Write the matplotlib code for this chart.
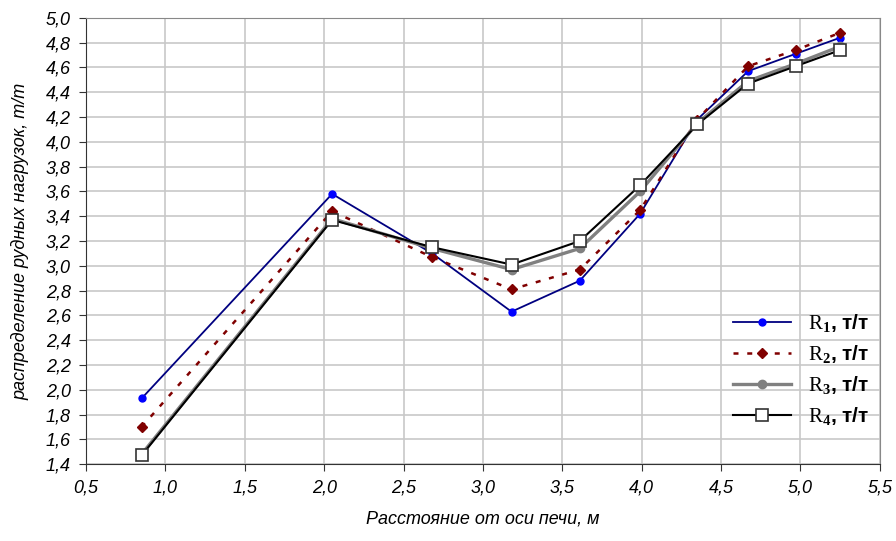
import matplotlib.pyplot as plt
from matplotlib.ticker import FuncFormatter, MultipleLocator

x = [0.85, 2.05, 2.68, 3.18, 3.61, 3.99, 4.35, 4.67, 4.97, 5.25]
r1 = [1.93, 3.58, 3.10, 2.63, 2.88, 3.42, 4.18, 4.57, 4.71, 4.84]
r2 = [1.70, 3.44, 3.07, 2.81, 2.97, 3.45, 4.18, 4.61, 4.74, 4.88]
r3 = [1.48, 3.38, 3.14, 2.97, 3.14, 3.60, 4.15, 4.49, 4.63, 4.77]
r4 = [1.47, 3.37, 3.15, 3.01, 3.20, 3.65, 4.14, 4.47, 4.61, 4.74]
labels = [r'$\mathrm{R}_\mathbf{1}$, т/т', r'$\mathrm{R}_\mathbf{2}$, т/т',
          r'$\mathrm{R}_\mathbf{3}$, т/т', r'$\mathrm{R}_\mathbf{4}$, т/т']

plt.rcParams['font.family'] = ['Liberation Sans', 'DejaVu Sans']
plt.rcParams['mathtext.fontset'] = 'custom'
plt.rcParams['mathtext.rm'] = 'Liberation Serif'
plt.rcParams['mathtext.bf'] = 'Liberation Serif:bold'

fig = plt.figure(figsize=(8.96, 5.41), dpi=100)
ax = fig.add_axes([0.096, 0.142, 0.886, 0.825])

ax.plot(x, r1, color='#000080', lw=1.3, marker='o', ms=5, mfc='#0000ff', mec='#0000ff', label=labels[0], zorder=3)
ax.plot(x, r2, color='#800000', lw=1.8, ls=(0, (2, 3.5)), marker='D', ms=5, mfc='#800000', mec='#800000', label=labels[1], zorder=3)
ax.plot(x, r3, color='#808080', lw=2.4, marker='o', ms=6, mfc='#808080', mec='#808080', label=labels[2], zorder=3)
ax.plot(x, r4, color='black', lw=1.5, marker='s', ms=8, mfc='white', mec='#333333', mew=1.2, label=labels[3], zorder=4)

ax.set_xlim(0.5, 5.5)
ax.set_ylim(1.4, 5.0)
ax.xaxis.set_major_locator(MultipleLocator(0.5))
ax.yaxis.set_major_locator(MultipleLocator(0.2))
fmt = FuncFormatter(lambda v, p: f'{v:.1f}'.replace('.', ','))
ax.xaxis.set_major_formatter(fmt)
ax.yaxis.set_major_formatter(fmt)
ax.grid(True, color='#c8c8c8', lw=1.2)
ax.set_axisbelow(True)
for s in ['top', 'right']:
    ax.spines[s].set_color('#888888')
for s in ['left', 'bottom']:
    ax.spines[s].set_color('#333333')
ax.tick_params(direction='out', length=5, color='#333333', labelsize=13, pad=6)
for t in ax.get_xticklabels() + ax.get_yticklabels():
    t.set_fontstyle('italic')

ax.set_xlabel('Расстояние от оси печи, м', fontsize=13, fontstyle='italic', labelpad=10)
ax.set_ylabel('распределение рудных нагрузок, т/т', fontsize=13, fontstyle='italic', labelpad=12)

ax.legend(loc='lower right', bbox_to_anchor=(1.01, 0.04), frameon=False,
          handlelength=2.8, labelspacing=0.4, prop={'size': 15, 'weight': 'bold'})

fig.savefig('out.png', dpi=100)
